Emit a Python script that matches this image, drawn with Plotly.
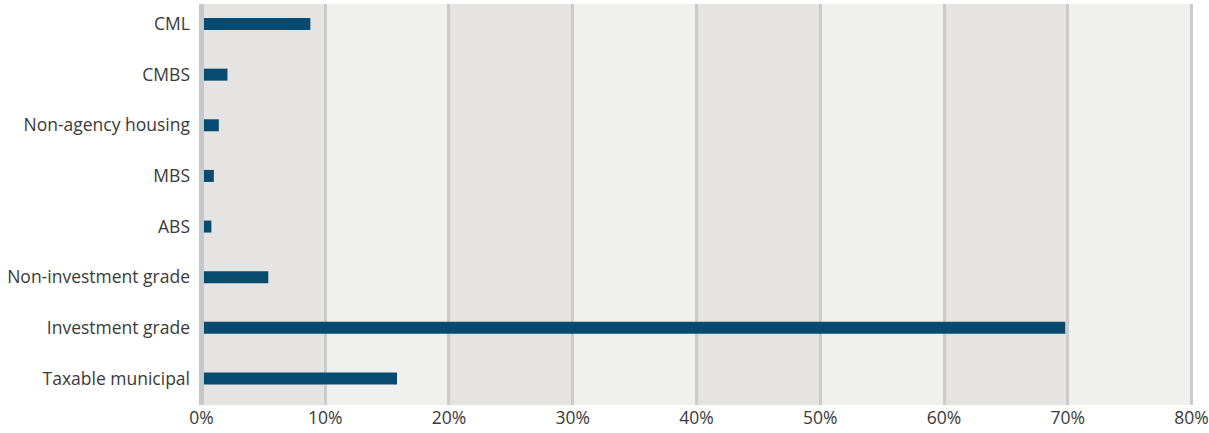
import plotly.graph_objects as go

# Asset classes, bottom to top
categories = [
    "Taxable municipal",
    "Investment grade",
    "Non-investment grade",
    "ABS",
    "MBS",
    "Non-agency housing",
    "CMBS",
    "CML",
]
# Share of portfolio (%)
shares = [15.8, 69.8, 5.4, 0.8, 1.0, 1.4, 2.1, 8.8]
tick_values = [0, 10, 20, 30, 40, 50, 60, 70, 80]
tick_labels = ["0%", "10%", "20%", "30%", "40%", "50%", "60%", "70%", "80%"]

BAR = "#074b71"
BAND_DARK = "#e5e4e3"
BAND_LIGHT = "#f0f0ef"
GRID = "#cbcbcc"
TEXT = "#3a3a3a"
FONT = "Open Sans"

fig = go.Figure(
    go.Bar(
        x=shares,
        y=list(range(len(categories))),
        orientation="h",
        marker=dict(color=BAR, line=dict(width=0)),
        width=0.237,
        hoverinfo="skip",
    )
)

# alternating background bands between the ticks
shapes = []
for i in range(len(tick_values) - 1):
    shapes.append(
        dict(
            type="rect",
            xref="x",
            yref="paper",
            x0=tick_values[i],
            x1=tick_values[i + 1],
            y0=0,
            y1=1,
            fillcolor=BAND_DARK if i % 2 == 0 else BAND_LIGHT,
            line=dict(width=0),
            layer="below",
        )
    )
# baseline drawn over the bar starts
shapes.append(
    dict(
        type="line",
        xref="x",
        yref="paper",
        x0=0,
        x1=0,
        y0=0,
        y1=1,
        line=dict(color="#c6c7c9", width=5),
        layer="above",
    )
)

fig.update_layout(
    width=1209,
    height=433,
    margin=dict(l=199, r=15, t=4, b=28),
    paper_bgcolor="white",
    plot_bgcolor="white",
    showlegend=False,
    shapes=shapes,
    font=dict(family=FONT, size=17.5, color=TEXT),
    xaxis=dict(
        range=[-0.2, 80.2],
        tickvals=tick_values,
        ticktext=tick_labels,
        showgrid=True,
        gridcolor=GRID,
        gridwidth=3,
        zeroline=False,
        showline=False,
        ticks="",
        automargin=False,
        tickfont=dict(family=FONT, size=17.5, color=TEXT),
        fixedrange=True,
    ),
    yaxis=dict(
        range=[-0.523, 7.395],
        tickvals=list(range(len(categories))),
        ticktext=categories,
        showgrid=False,
        zeroline=False,
        showline=False,
        ticks="",
        automargin=False,
        ticklabelstandoff=8,
        tickfont=dict(family=FONT, size=17.5, color=TEXT),
        fixedrange=True,
    ),
)

fig.write_html("out.html", config={"displayModeBar": False})
